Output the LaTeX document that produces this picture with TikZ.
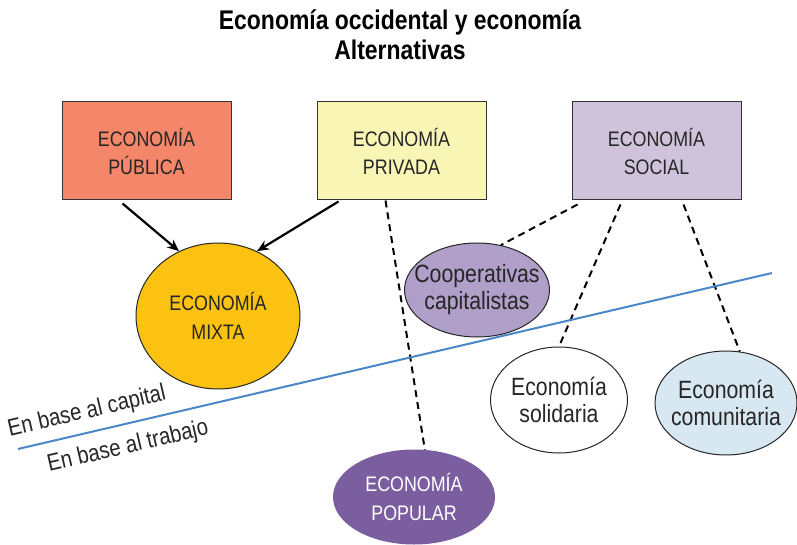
\documentclass[tikz,border=0pt]{standalone}
\usepackage{fontspec}
\setmainfont{Liberation Sans}[FakeStretch=0.85]
\usepackage{tikz}
\usetikzlibrary{shapes.geometric,arrows.meta}
\usepackage{xcolor}
\definecolor{publico}{HTML}{F4876A}
\definecolor{privado}{HTML}{F8F5B5}
\definecolor{social}{HTML}{CFC3DC}
\definecolor{mixta}{HTML}{FBC211}
\definecolor{coop}{HTML}{B09FC8}
\definecolor{comun}{HTML}{D8E8F2}
\definecolor{popular}{HTML}{7B5EA0}
\definecolor{linea}{HTML}{4A86C8}

\begin{document}
\begin{tikzpicture}[x=1pt,y=-1pt,
  caja/.style={draw=black!80, line width=1pt, minimum width=169pt, minimum height=98pt, align=center, font=\fontsize{21}{28}\selectfont, text=black!85},
  elip/.style={ellipse, draw=black!85, line width=1pt, inner xsep=-16pt, inner ysep=0pt, align=center, text=black!85},
  flecha/.style={line width=2.2pt, -{Stealth[length=12pt,width=10pt]}},
  rayas/.style={line width=2pt, dash pattern=on 7pt off 5pt}]
\useasboundingbox (0,0) rectangle (797,545);
% titulo
\node (tit) at (400,35) [align=center, font=\fontsize{27}{30}\selectfont\bfseries] {Economía occidental y economía\\Alternativas};
% cajas
\node (pub) at (146.5,151) [caja, fill=publico] {ECONOMÍA\\PÚBLICA};
\node (priv) at (401.5,151) [caja, fill=privado] {ECONOMÍA\\PRIVADA};
\node (soc) at (656.5,151) [caja, fill=social] {ECONOMÍA\\SOCIAL};
% elipses
\node (mix) at (218,316) [elip, fill=mixta, minimum width=164pt, minimum height=146pt, font=\fontsize{21}{29}\selectfont] {ECONOMÍA\\MIXTA};
\node (coo) at (477,290) [elip, fill=coop, minimum width=145pt, minimum height=94pt, font=\fontsize{25}{27}\selectfont] {Cooperativas\\capitalistas};
\node (sol) at (559,400) [elip, fill=white, minimum width=137pt, minimum height=106pt, font=\fontsize{25}{27}\selectfont] {Economía\\solidaria};
\node (com) at (726,403) [elip, fill=comun, minimum width=142pt, minimum height=104pt, font=\fontsize{25}{27}\selectfont] {Economía\\comunitaria};
\node (pop) at (414,497) [elip, fill=popular, draw=popular, minimum width=161pt, minimum height=94pt, font=\fontsize{21}{29}\selectfont, text=white] {ECONOMÍA\\POPULAR};
% flechas
\draw [flecha] ([xshift=-24pt,yshift=-3pt]pub.south) -- (mix.121);
\draw [flecha] ([xshift=-63pt,yshift=-1pt]priv.south) -- (mix.59);
\draw [rayas] ([xshift=-16pt]priv.south) -- (pop.77);
\draw [rayas] ([xshift=-79pt,yshift=-4pt]soc.south) -- (coo.62);
\draw [rayas] ([xshift=-36pt,yshift=-4pt]soc.south) -- (sol.north);
\draw [rayas] ([xshift=27pt,yshift=-4pt]soc.south) -- (com.75);
% linea capital / trabajo
\coordinate (izq) at (18,449);
\coordinate (der) at (772,273);
\draw [linea, line width=2pt] (izq) -- (der);
\node (cap) at (87,412) [rotate=13.1, font=\fontsize{24}{26}\selectfont, text=black!85] {En base al capital};
\node (tra) at (128,447) [rotate=13.1, font=\fontsize{24}{26}\selectfont, text=black!85] {En base al trabajo};
\end{tikzpicture}
\end{document}
